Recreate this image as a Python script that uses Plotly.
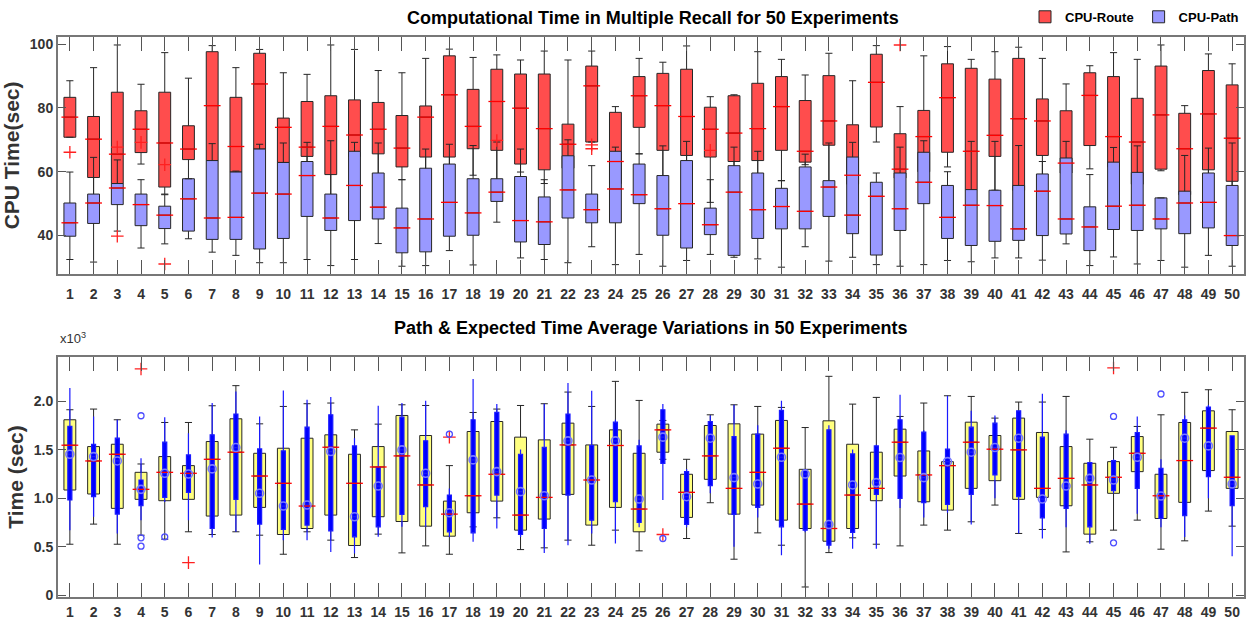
import plotly.graph_objects as go
from plotly.subplots import make_subplots

experiments = list(range(1, 51))

# ---------- Top chart: CPU time (sec) ----------
route_q1 = [70.8, 58.2, 56.3, 66.0, 55.2, 63.8, 63.5, 59.9, 67.1, 62.9,
            64.8, 59.1, 64.8, 65.6, 61.5, 64.6, 64.6, 67.2, 66.7, 62.4,
            60.6, 61.1, 69.3, 56.3, 73.9, 66.7, 65.1, 64.6, 63.2, 63.5,
            66.7, 63.0, 68.3, 56.1, 74.0, 58.0, 60.0, 66.1, 54.4, 64.8,
            54.2, 65.1, 59.6, 68.2, 61.5, 56.1, 60.8, 52.8, 60.6, 57.0]
route_med = [77.1, 70.2, 65.5, 73.3, 69.0, 67.1, 80.7, 67.9, 87.5, 73.9,
             67.7, 74.2, 71.5, 73.3, 67.4, 77.1, 84.1, 74.2, 82.0, 79.9,
             73.5, 68.6, 86.9, 63.2, 83.8, 80.7, 77.3, 73.3, 72.1, 73.5,
             80.4, 66.4, 75.9, 58.9, 88.0, 60.8, 71.0, 83.2, 66.4, 71.4,
             76.6, 75.9, 62.7, 83.9, 71.0, 69.3, 77.8, 67.2, 78.1, 70.5]
route_q3 = [83.3, 77.3, 84.9, 79.1, 84.9, 74.4, 97.6, 83.3, 97.1, 76.8,
            82.0, 83.8, 82.5, 81.7, 77.6, 80.6, 96.3, 85.8, 92.1, 90.6,
            90.6, 74.9, 93.1, 78.6, 89.8, 90.8, 92.1, 80.2, 83.8, 87.7,
            89.8, 82.3, 90.1, 74.7, 96.8, 71.9, 79.2, 93.8, 92.4, 89.0,
            95.5, 82.8, 79.1, 91.0, 89.8, 83.0, 93.1, 78.3, 91.7, 87.2]
route_lo = [70.8, 50.2, 50.5, 62.4, 53.0, 57.5, 53.3, 55.4, 51.8, 56.3,
            54.6, 50.4, 62.0, 56.7, 57.5, 53.6, 56.1, 58.9, 55.7, 59.9,
            56.3, 52.6, 69.3, 52.0, 65.6, 52.0, 50.2, 50.4, 56.8, 58.9,
            57.2, 62.2, 56.7, 52.6, 69.3, 50.2, 52.3, 61.5, 52.0, 54.2,
            52.0, 50.9, 56.1, 60.9, 50.5, 53.6, 60.3, 50.2, 52.6, 52.5]
route_hi = [88.5, 92.6, 99.7, 87.4, 97.3, 89.3, 99.5, 92.6, 98.3, 91.0,
            90.5, 99.7, 98.3, 91.7, 91.0, 95.5, 98.4, 95.8, 96.6, 95.0,
            97.8, 95.0, 97.8, 80.4, 95.5, 94.3, 99.4, 83.5, 84.1, 97.6,
            95.2, 90.3, 97.1, 88.5, 99.5, 80.4, 96.3, 99.2, 95.2, 97.6,
            99.0, 95.5, 87.5, 93.2, 97.3, 95.2, 99.7, 80.7, 96.9, 93.8]

path_q1 = [39.8, 43.8, 49.7, 43.1, 42.2, 41.4, 38.8, 38.8, 35.8, 39.1,
           46.0, 41.6, 44.7, 45.2, 34.6, 34.9, 39.8, 40.1, 50.7, 38.0,
           37.2, 45.5, 44.0, 44.0, 50.0, 40.1, 36.1, 40.3, 33.8, 39.1,
           42.1, 42.1, 46.0, 40.6, 33.9, 41.6, 50.0, 39.1, 36.9, 38.2,
           38.5, 40.0, 40.5, 35.3, 41.9, 41.6, 42.1, 40.6, 42.4, 36.9]
path_med = [44.0, 50.2, 54.9, 49.7, 46.4, 51.5, 45.5, 45.7, 53.3, 53.0,
            58.8, 45.5, 55.7, 48.9, 42.4, 45.2, 50.4, 47.1, 53.6, 44.7,
            44.3, 54.3, 48.1, 54.6, 52.8, 48.4, 50.0, 43.4, 53.6, 48.1,
            49.1, 47.6, 55.2, 46.4, 52.3, 48.4, 56.7, 45.7, 49.5, 49.4,
            42.1, 53.9, 45.2, 42.7, 49.2, 49.5, 45.2, 50.2, 50.4, 40.0]
path_q3 = [50.2, 53.0, 56.3, 53.0, 49.2, 57.8, 63.5, 59.9, 67.1, 62.9,
           63.2, 53.0, 66.4, 59.6, 48.6, 61.1, 62.4, 57.8, 57.8, 58.5,
           52.1, 65.0, 53.0, 66.4, 62.4, 58.8, 63.5, 48.6, 61.9, 59.6,
           54.8, 61.5, 57.2, 64.6, 56.7, 59.6, 66.1, 55.7, 54.4, 54.2,
           55.7, 59.3, 64.3, 49.0, 63.0, 59.8, 51.8, 53.9, 59.6, 55.7]
path_lo = [32.5, 31.7, 41.4, 36.1, 37.4, 39.0, 34.8, 33.8, 31.5, 31.5,
           32.5, 30.6, 32.5, 37.5, 30.4, 30.6, 35.3, 30.8, 44.2, 33.0,
           32.5, 31.5, 36.5, 30.9, 34.1, 30.4, 32.2, 34.1, 33.2, 32.7,
           30.1, 36.5, 32.0, 33.2, 30.9, 30.4, 30.9, 32.2, 31.8, 33.0,
           33.0, 32.3, 37.4, 30.6, 33.3, 31.1, 32.2, 30.1, 33.8, 30.4]
path_hi = [59.9, 64.5, 63.7, 57.5, 52.8, 57.8, 68.8, 60.2, 68.6, 69.0,
           69.2, 69.7, 69.2, 69.0, 57.5, 67.1, 68.6, 68.2, 69.3, 67.1,
           57.5, 70.0, 61.9, 67.7, 65.6, 68.1, 69.5, 57.5, 67.7, 66.4,
           57.2, 65.5, 69.0, 69.2, 59.6, 67.7, 69.7, 60.0, 69.5, 69.5,
           68.2, 63.2, 69.5, 59.1, 67.6, 68.1, 51.8, 65.1, 67.4, 69.0]

cpu_outlier_x = [1, 3, 3, 4, 5, 5, 19, 23, 23, 28, 36]
cpu_outlier_y = [66.1, 67.7, 39.8, 69.2, 62.2, 31.1, 69.8, 68.4, 67.2, 66.7, 99.7]

# ---------- Bottom chart: time (sec) ----------
exp_q1 = [1084, 1043, 895, 988, 974, 988, 816, 826, 905, 626,
          688, 826, 513, 809, 760, 712, 609, 850, 970, 671,
          785, 1039, 723, 905, 654, 1473, 802, 1194, 836, 929,
          774, 688, 557, 688, 974, 1228, 963, 877, 1101, 1180,
          988, 1008, 922, 630, 1050, 1273, 791, 957, 1284, 1101]
exp_med = [1545, 1383, 1452, 1091, 1266, 1256, 1400, 1473, 1228, 1153,
           919, 1524, 1153, 1321, 1435, 1136, 836, 1025, 1246, 826,
           1008, 1548, 1187, 1542, 888, 1703, 1060, 1435, 1101, 1266,
           1514, 939, 688, 1032, 1101, 1576, 1239, 1335, 1576, 1504,
           1497, 1101, 1204, 1136, 1215, 1462, 1025, 1387, 1721, 1215]
exp_q3 = [1807, 1531, 1555, 1266, 1428, 1335, 1583, 1817, 1462, 1514,
          1617, 1652, 1452, 1531, 1851, 1645, 970, 1686, 1789, 1628,
          1600, 1772, 1548, 1703, 1462, 1762, 1246, 1748, 1765, 1659,
          1800, 1297, 1796, 1555, 1473, 1710, 1486, 1376, 1782, 1645,
          1824, 1676, 1531, 1359, 1376, 1634, 1246, 1779, 1899, 1686]
exp_lo = [526, 733, 526, 619, 578, 654, 626, 654, 619, 423,
          654, 568, 389, 630, 437, 509, 423, 705, 798, 471,
          489, 568, 516, 671, 458, 1400, 585, 953, 372, 643,
          516, 86, 440, 592, 526, 509, 723, 671, 757, 929,
          637, 678, 447, 551, 671, 774, 475, 561, 867, 712]
exp_hi = [1910, 1917, 1807, 1352, 1779, 1779, 1951, 2158, 1765, 1944,
          1972, 1979, 1703, 1762, 1961, 1954, 1335, 1882, 1917, 1954,
          1972, 2092, 1944, 2202, 2006, 1800, 1400, 1858, 1961, 1944,
          1934, 1727, 2254, 1968, 2037, 1841, 1979, 2054, 2047, 1824,
          1989, 1989, 2047, 1607, 1524, 1738, 1858, 2089, 2116, 1910]

pavg_q1 = [981, 1015, 836, 922, 1008, 1060, 688, 988, 733, 678,
           723, 664, 602, 705, 833, 912, 654, 643, 1032, 626,
           688, 1032, 774, 963, 750, 1359, 730, 1129, 833, 905,
           705, 671, 516, 647, 1039, 998, 953, 936, 1039, 1239,
           1015, 798, 895, 705, 1077, 1101, 791, 819, 1222, 922]
pavg_mean = [1452, 1428, 1383, 1091, 1256, 1249, 1301, 1521, 1050, 919,
             929, 1480, 809, 1125, 1497, 1256, 850, 1394, 1273, 1067,
             1025, 1590, 1187, 1590, 991, 1628, 1015, 1617, 1211, 1146,
             1421, 1249, 729, 1136, 1160, 1418, 1211, 1376, 1473, 1521,
             1617, 991, 1125, 1204, 1187, 1421, 1022, 1617, 1538, 1146]
pavg_q3 = [1738, 1555, 1617, 1187, 1576, 1445, 1652, 1865, 1507, 1486,
           1731, 1858, 1538, 1321, 1834, 1590, 1032, 1807, 1882, 1452,
           1524, 1865, 1542, 1782, 1538, 1910, 1273, 1789, 1634, 1659,
           1903, 1290, 1703, 1455, 1538, 1807, 1679, 1504, 1731, 1772,
           1899, 1628, 1659, 1366, 1387, 1676, 1308, 1807, 1937, 1641]
pavg_lo = [671, 809, 637, 774, 960, 774, 595, 654, 317, 568,
           568, 447, 430, 602, 705, 705, 600, 551, 688, 600,
           437, 516, 637, 533, 700, 981, 700, 1050, 499, 800,
           413, 650, 480, 480, 480, 900, 800, 850, 730, 1000,
           637, 585, 700, 530, 1050, 840, 700, 600, 1000, 403]
pavg_hi = [2133, 1841, 1807, 1411, 1834, 1669, 1979, 2099, 1841, 2109,
           2013, 2041, 1617, 1951, 1979, 2003, 1100, 2226, 1968, 1500,
           1972, 2185, 2106, 1807, 1600, 1968, 1300, 1850, 1961, 1750,
           2003, 1300, 1750, 1500, 1550, 2065, 1700, 2054, 1900, 1850,
           1900, 2075, 1700, 1366, 1400, 1841, 1400, 1850, 1960, 1641]

exp_outlier_x = [4, 6, 17, 26, 45]
exp_outlier_y = [2330, 337, 1628, 626, 2340]
pavg_outlier_x = [4, 4, 4, 5, 17, 26, 45, 45, 47]
pavg_outlier_y = [1848, 592, 506, 602, 1659, 585, 1841, 540, 2072]

bottom_tickvals = [0, 500, 1000, 1500, 2000]
bottom_ticktext = ["0", "0.5", "1.0", "1.5", "2.0"]

# ---------- Figure ----------
FONT = "Liberation Sans"
fig = make_subplots(rows=2, cols=1, vertical_spacing=0.0)

fig.add_trace(go.Box(
    x=experiments, q1=route_q1, median=route_med, q3=route_q3,
    lowerfence=route_lo, upperfence=route_hi, name="CPU-Route",
    fillcolor="#ff4d4d", line=dict(color="#262626", width=1),
    width=0.5, whiskerwidth=0.6, boxpoints=False, showlegend=True), row=1, col=1)
fig.add_trace(go.Box(
    x=experiments, q1=path_q1, median=path_med, q3=path_q3,
    lowerfence=path_lo, upperfence=path_hi, name="CPU-Path",
    fillcolor="#9999ff", line=dict(color="#262626", width=1),
    width=0.5, whiskerwidth=0.6, boxpoints=False, showlegend=True), row=1, col=1)
fig.add_trace(go.Scatter(
    x=experiments + experiments, y=route_med + path_med, mode="markers",
    marker=dict(symbol="line-ew", size=12, line=dict(color="#ff0000", width=1.3)),
    showlegend=False, hoverinfo="skip"), row=1, col=1)
fig.add_trace(go.Scatter(
    x=cpu_outlier_x, y=cpu_outlier_y, mode="markers",
    marker=dict(symbol="cross-thin", size=9, line=dict(color="#ff2020", width=1.3)),
    showlegend=False), row=1, col=1)

fig.add_trace(go.Box(
    x=experiments, q1=exp_q1, median=exp_med, q3=exp_q3,
    lowerfence=exp_lo, upperfence=exp_hi, name="Expected",
    fillcolor="#ffff80", line=dict(color="#262626", width=1),
    width=0.5, whiskerwidth=0.6, boxpoints=False, showlegend=False), row=2, col=1)
fig.add_trace(go.Scatter(
    x=experiments, y=exp_med, mode="markers",
    marker=dict(symbol="line-ew", size=12, line=dict(color="#ff0000", width=1.3)),
    showlegend=False, hoverinfo="skip"), row=2, col=1)
fig.add_trace(go.Box(
    x=experiments, q1=pavg_q1, median=pavg_mean, q3=pavg_q3,
    lowerfence=pavg_lo, upperfence=pavg_hi, name="Path",
    fillcolor="#0000ff", line=dict(color="#1a1aff", width=1.2),
    width=0.17, whiskerwidth=0, boxpoints=False, showlegend=False), row=2, col=1)
fig.add_trace(go.Scatter(
    x=experiments, y=pavg_mean, mode="markers",
    marker=dict(symbol="circle-open", size=8, color="#7a7aff", line=dict(width=1.6)),
    showlegend=False), row=2, col=1)
fig.add_trace(go.Scatter(
    x=exp_outlier_x, y=exp_outlier_y, mode="markers",
    marker=dict(symbol="cross-thin", size=9, line=dict(color="#ff2020", width=1.3)),
    showlegend=False), row=2, col=1)
fig.add_trace(go.Scatter(
    x=pavg_outlier_x, y=pavg_outlier_y, mode="markers",
    marker=dict(symbol="circle-open", size=6, color="#4d4dff", line=dict(width=1.3)),
    showlegend=False), row=2, col=1)

tick_font = dict(family=FONT, size=14, color="#333333", weight="bold")
common_x = dict(range=[0.5, 50.5], tickvals=experiments, ticktext=[str(e) for e in experiments],
                ticks="inside", ticklen=14, tickwidth=1.2, tickcolor="#555555",
                showline=True, linecolor="#777777", linewidth=2, mirror="ticks",
                showgrid=False, zeroline=False, tickfont=tick_font, ticklabelstandoff=6)
common_y = dict(ticks="inside", ticklen=8, tickwidth=1.2, tickcolor="#555555",
                showline=True, linecolor="#777777", linewidth=2, mirror="ticks",
                showgrid=False, zeroline=False, tickfont=tick_font)

fig.update_xaxes(**common_x)
fig.update_yaxes(**common_y)

fig.update_layout(
    width=1250, height=623,
    margin=dict(l=58, r=6, t=37, b=26, autoexpand=False),
    plot_bgcolor="white", paper_bgcolor="white",
    boxmode="overlay",
    xaxis=dict(domain=[0, 1]),
    yaxis=dict(domain=[0.577, 1.0], range=[28, 102.2], tickvals=[40, 60, 80, 100],
               title=dict(text="CPU Time(sec)", font=dict(family=FONT, size=21, color="#333333", weight="bold"),
                          standoff=4)),
    xaxis2=dict(domain=[0, 1], ticklabelstandoff=1),
    yaxis2=dict(domain=[0.0, 0.4286], range=[-17, 2453], tickvals=bottom_tickvals, ticktext=bottom_ticktext,
                title=dict(text="Time (sec)", font=dict(family=FONT, size=21, color="#333333", weight="bold"),
                           standoff=4)),
    legend=dict(orientation="h", x=1.0, xanchor="right", y=1.036, yanchor="middle",
                font=dict(family=FONT, size=13, color="black", weight="bold"), bgcolor="rgba(0,0,0,0)",
                itemwidth=30),
    annotations=[
        dict(text="<b>Computational Time in Multiple Recall for 50 Experiments</b>",
             x=0.502, y=1.034, xref="paper", yref="paper", yanchor="middle", showarrow=False,
             font=dict(family=FONT, size=18, color="black")),
        dict(text="<b>Path & Expected Time Average Variations in 50 Experiments</b>",
             x=0.5, y=0.48, xref="paper", yref="paper", yanchor="middle", showarrow=False,
             font=dict(family=FONT, size=18, color="black")),
        dict(text="x10<sup>3</sup>", x=0.0, y=0.4625, xref="paper", yref="paper",
             xanchor="left", yanchor="middle", showarrow=False,
             font=dict(family=FONT, size=13, color="#333333")),
    ],
)

fig.write_html("out.html")
